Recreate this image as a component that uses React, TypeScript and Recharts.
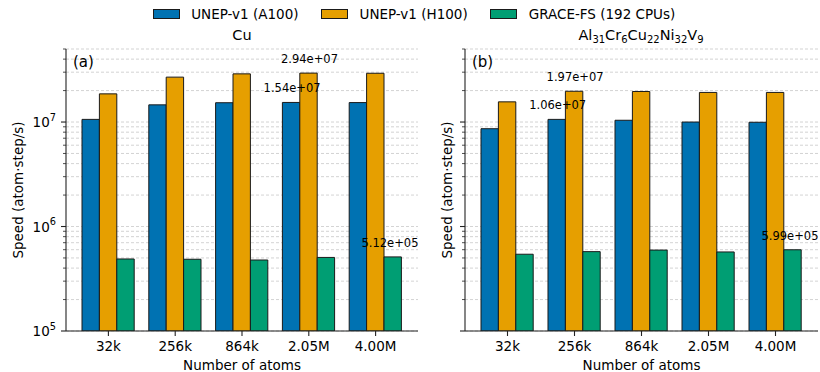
import React from 'react'
import { Bar, BarChart, CartesianGrid, LabelList, XAxis, YAxis } from 'recharts'

const categories = ['32k', '256k', '864k', '2.05M', '4.00M']

// Cu
const cuA100 = [1.06e7, 1.46e7, 1.53e7, 1.54e7, 1.535e7]
const cuH100 = [1.86e7, 2.69e7, 2.89e7, 2.94e7, 2.93e7]
const cuGrace = [4.89e5, 4.86e5, 4.78e5, 5.06e5, 5.12e5]

// Al31Cr6Cu22Ni32V9
const heaA100 = [8.63e6, 1.06e7, 1.04e7, 1.0e7, 9.95e6]
const heaH100 = [1.56e7, 1.97e7, 1.96e7, 1.92e7, 1.92e7]
const heaGrace = [5.43e5, 5.75e5, 5.95e5, 5.71e5, 5.99e5]

const seriesNames = ['UNEP-v1 (A100)', 'UNEP-v1 (H100)', 'GRACE-FS (192 CPUs)']
const seriesColors = ['#0072B2', '#E69F00', '#009E73']

const majorTicks = [1e5, 1e6, 1e7]
const minorSteps = [2, 3, 4, 5, 6, 7, 8, 9]
const yDomain: [number, number] = [1e5, 5e7]

const yTicks = majorTicks
  .flatMap((m) => [m, ...minorSteps.map((s) => s * m)])
  .filter((v) => v <= yDomain[1])

const FONT = '"DejaVu Sans", sans-serif'
const AXIS = '#222'
const FS = 13.5

function formatSci(v: number) {
  const [mant, exp] = v.toExponential(2).split('e')
  const sign = exp[0] === '-' ? '-' : '+'
  const digits = exp.replace(/[+-]/, '').padStart(2, '0')
  return `${mant}e${sign}${digits}`
}

function maxIndex(values: number[]) {
  return values.indexOf(Math.max(...values))
}

function LogTick(props: any) {
  const { x, y, payload, showLabel } = props
  const v = payload.value as number
  const exp = Math.round(Math.log10(v))
  const major = Math.abs(v - 10 ** exp) < v * 1e-6
  return (
    <g>
      <line
        x1={x - (major ? 5 : 3)}
        x2={x}
        y1={y}
        y2={y}
        stroke={AXIS}
        strokeWidth={major ? 1.1 : 0.8}
      />
      {major && showLabel && (
        <text x={x - 10} y={y + 5} textAnchor="end" fontSize={FS} fill="#000">
          10
          <tspan dy={-6.5} fontSize={9.8}>
            {exp}
          </tspan>
        </text>
      )}
    </g>
  )
}

// label only the tallest bar of a series; keep it inside the chart width
function annotation(target: number, chartWidth: number) {
  return (props: any) => {
    const { x, y, width, value, index } = props
    if (index !== target) return null
    const cx = Math.min(Number(x) + Number(width) / 2 + 1, chartWidth - 30)
    return (
      <text x={cx} y={Number(y) - 10} textAnchor="middle" fontSize={11.5} fill="#000">
        {formatSci(Number(value))}
      </text>
    )
  }
}

interface PanelProps {
  a100: number[]
  h100: number[]
  grace: number[]
  yAxisWidth: number
  labelOffset: number
  showTickLabels: boolean
  width: number
}

function Panel({ a100, h100, grace, yAxisWidth, labelOffset, showTickLabels, width }: PanelProps) {
  const data = categories.map((cat, i) => ({
    cat,
    a100: a100[i],
    h100: h100[i],
    grace: grace[i],
  }))
  const keys = ['a100', 'h100', 'grace']
  const series = [a100, h100, grace]

  return (
    <BarChart
      width={width}
      height={372}
      data={data}
      margin={{ top: 49, right: 2, bottom: 0, left: 0 }}
      barGap={0}
      barSize={17.4}
    >
      <CartesianGrid vertical={false} stroke="#c8c8c8" strokeDasharray="3 2" strokeWidth={0.8} />
      <XAxis
        dataKey="cat"
        height={41}
        interval={0}
        padding={{ left: 9, right: 9 }}
        tickSize={5}
        tickMargin={5.5}
        tick={{ fontSize: FS, fill: '#000' }}
        tickLine={{ stroke: AXIS, strokeWidth: 1.1 }}
        axisLine={{ stroke: AXIS, strokeWidth: 1.1 }}
        label={{
          value: 'Number of atoms',
          position: 'insideBottom',
          offset: 2.5,
          style: { fontSize: FS, fill: '#000' },
        }}
      />
      <XAxis
        xAxisId="top"
        orientation="top"
        dataKey="cat"
        height={0}
        tick={false}
        tickLine={false}
        axisLine={{ stroke: AXIS, strokeWidth: 1.1 }}
      />
      <YAxis
        scale="log"
        type="number"
        domain={yDomain}
        allowDataOverflow
        ticks={yTicks}
        interval={0}
        width={yAxisWidth}
        tickSize={0}
        tickMargin={0}
        tickLine={false}
        axisLine={{ stroke: AXIS, strokeWidth: 1.1 }}
        tick={<LogTick showLabel={showTickLabels} />}
        label={{
          value: 'Speed (atom·step/s)',
          angle: -90,
          position: 'insideLeft',
          offset: labelOffset,
          style: { fontSize: FS, fill: '#000', textAnchor: 'middle' },
        }}
      />
      <YAxis
        yAxisId="right"
        orientation="right"
        scale="log"
        type="number"
        domain={yDomain}
        allowDataOverflow
        width={0}
        tick={false}
        tickLine={false}
        axisLine={{ stroke: AXIS, strokeWidth: 1.1 }}
      />
      {keys.map((k, i) => (
        <Bar
          key={k}
          dataKey={k}
          fill={seriesColors[i]}
          stroke="#1a1a1a"
          strokeWidth={1}
          isAnimationActive={false}
        >
          <LabelList dataKey={k} content={annotation(maxIndex(series[i]), width)} />
        </Bar>
      ))}
    </BarChart>
  )
}

export default function App() {
  return (
    <div
      style={{
        position: 'absolute',
        left: 0,
        top: 0,
        width: 820,
        height: 372,
        background: '#fff',
        fontFamily: FONT,
        overflow: 'hidden',
      }}
    >
      <style>{'.recharts-surface { overflow: visible; }'}</style>
      <div style={{ position: 'absolute', left: 0, top: 0 }}>
        <Panel
          a100={cuA100}
          h100={cuH100}
          grace={cuGrace}
          yAxisWidth={66}
          labelOffset={18}
          showTickLabels
          width={420}
        />
      </div>
      <div style={{ position: 'absolute', left: 420, top: 0 }}>
        <Panel
          a100={heaA100}
          h100={heaH100}
          grace={heaGrace}
          yAxisWidth={45}
          labelOffset={27.5}
          showTickLabels={false}
          width={400}
        />
      </div>

      {/* titles and panel letters */}
      <svg
        width={820}
        height={372}
        style={{ position: 'absolute', left: 0, top: 0, pointerEvents: 'none' }}
        fontFamily={FONT}
      >
        <text x={242} y={40} textAnchor="middle" fontSize={14.5}>
          Cu
        </text>
        <text x={641} y={40} textAnchor="middle" fontSize={14.5}>
          Al
          <tspan dy={3} fontSize={10}>31</tspan>
          <tspan dy={-3}>Cr</tspan>
          <tspan dy={3} fontSize={10}>6</tspan>
          <tspan dy={-3}>Cu</tspan>
          <tspan dy={3} fontSize={10}>22</tspan>
          <tspan dy={-3}>Ni</tspan>
          <tspan dy={3} fontSize={10}>32</tspan>
          <tspan dy={-3}>V</tspan>
          <tspan dy={3} fontSize={10}>9</tspan>
        </text>
        <text x={73} y={66.5} fontSize={15}>
          (a)
        </text>
        <text x={472} y={66.5} fontSize={15}>
          (b)
        </text>
      </svg>

      {/* legend */}
      <div
        style={{
          position: 'absolute',
          left: 4,
          top: 0,
          width: 820,
          height: 28,
          display: 'flex',
          justifyContent: 'center',
          alignItems: 'center',
          gap: 22.5,
          fontSize: FS,
        }}
      >
        {seriesNames.map((name, i) => (
          <div key={name} style={{ display: 'flex', alignItems: 'center' }}>
            <span
              style={{
                display: 'inline-block',
                width: 25,
                height: 8,
                background: seriesColors[i],
                border: '1px solid #1a1a1a',
                marginRight: 11.5,
              }}
            />
            <span style={{ whiteSpace: 'nowrap' }}>{name}</span>
          </div>
        ))}
      </div>
    </div>
  )
}
